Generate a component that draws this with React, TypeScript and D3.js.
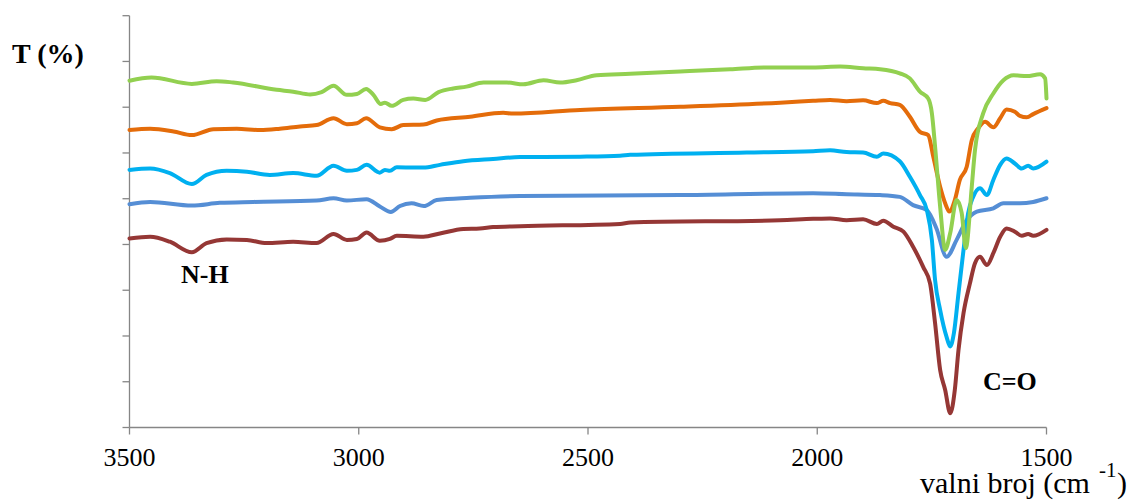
import React from "react";
import * as d3 from "d3";

// x: wavenumber (cm^-1), y: transmittance (%)
const xTicks = [3500, 3000, 2500, 2000, 1500];
const yTicks = [0, 10, 20, 30, 40, 50, 60, 70, 80, 90];

const greenWn = [3500, 3452, 3364, 3310, 3274, 3179, 3143, 3106, 3081, 3055, 3026, 3004, 2984, 2968, 2952, 2943, 2928, 2903, 2881, 2855, 2826, 2794, 2765, 2728, 2692, 2677, 2641, 2597, 2561, 2525, 2481, 2408, 2299, 2190, 2110, 2009, 1950, 1900, 1863, 1820, 1798, 1776, 1758, 1750, 1743, 1732, 1721, 1710, 1696, 1685, 1676, 1663, 1656, 1638, 1616, 1594, 1572, 1543, 1514, 1503, 1500];
const greenT = [75.8, 76.5, 75.1, 75.7, 75.4, 73.8, 73.4, 72.8, 73.3, 74.7, 72.7, 72.9, 74.0, 72.7, 70.7, 71.0, 70.3, 71.6, 71.9, 71.6, 73.3, 74.1, 74.5, 75.4, 75.4, 75.4, 75.0, 75.9, 75.4, 75.9, 77.0, 77.3, 77.8, 78.3, 78.7, 78.7, 78.9, 78.5, 78.3, 77.4, 76.3, 73.4, 71.9, 68.7, 61.4, 48.3, 38.8, 42.5, 49.7, 46.9, 39.2, 52.6, 60.6, 68.7, 73.0, 75.9, 77.0, 76.8, 77.2, 76.3, 71.9];

const orangeWn = [3500, 3455, 3404, 3364, 3317, 3266, 3215, 3172, 3128, 3092, 3055, 3026, 3004, 2984, 2954, 2928, 2903, 2859, 2830, 2757, 2685, 2663, 2517, 2299, 2081, 2009, 1972, 1936, 1900, 1870, 1856, 1841, 1820, 1798, 1776, 1758, 1747, 1732, 1721, 1712, 1700, 1689, 1674, 1663, 1649, 1634, 1616, 1601, 1587, 1569, 1558, 1543, 1529, 1500];
const orangeT = [65.0, 65.3, 64.7, 63.9, 65.2, 65.3, 65.0, 65.3, 65.8, 66.1, 67.6, 66.3, 66.5, 67.6, 65.6, 65.2, 66.1, 66.2, 67.1, 67.9, 68.8, 68.6, 69.4, 70.1, 71.0, 71.4, 71.6, 71.3, 71.5, 70.9, 71.4, 70.9, 70.5, 67.9, 64.6, 63.9, 59.2, 52.6, 49.0, 47.2, 49.7, 54.1, 57.0, 62.8, 65.4, 66.8, 65.6, 67.6, 69.5, 69.0, 68.1, 67.8, 68.5, 69.8];

const cyanWn = [3500, 3455, 3412, 3364, 3332, 3288, 3244, 3194, 3143, 3092, 3055, 3026, 3004, 2983, 2954, 2943, 2932, 2917, 2859, 2823, 2772, 2707, 2648, 2517, 2430, 2408, 2154, 2009, 1972, 1936, 1900, 1870, 1856, 1820, 1798, 1776, 1761, 1750, 1743, 1732, 1718, 1710, 1702, 1692, 1681, 1671, 1660, 1645, 1630, 1616, 1601, 1587, 1569, 1554, 1540, 1529, 1500];
const cyanT = [56.3, 56.6, 55.6, 53.2, 55.2, 56.1, 55.9, 55.2, 55.6, 55.0, 57.2, 56.1, 56.3, 57.4, 55.7, 56.3, 56.1, 56.9, 56.8, 57.4, 58.2, 58.7, 59.1, 59.2, 59.4, 59.6, 60.1, 60.4, 60.6, 60.2, 60.1, 59.2, 59.9, 58.2, 54.8, 50.8, 47.5, 41.0, 32.2, 25.7, 19.8, 17.7, 20.6, 29.3, 38.8, 46.8, 50.4, 52.3, 50.8, 54.1, 57.4, 58.8, 57.7, 56.6, 57.2, 56.6, 58.1];

const blueWn = [3500, 3455, 3364, 3303, 3230, 3092, 3055, 3026, 2983, 2954, 2930, 2910, 2885, 2858, 2830, 2757, 2648, 2299, 2009, 1936, 1863, 1820, 1791, 1761, 1740, 1718, 1696, 1674, 1652, 1616, 1594, 1558, 1529, 1500];
const blueT = [48.8, 49.3, 48.5, 49.1, 49.3, 49.6, 50.1, 49.6, 49.9, 48.3, 47.1, 48.4, 49.0, 48.4, 49.7, 50.2, 50.6, 50.8, 51.2, 51.0, 50.8, 50.4, 48.6, 47.5, 43.5, 37.3, 41.0, 45.3, 47.2, 47.9, 49.0, 49.0, 49.3, 50.1];

const redWn = [3500, 3455, 3412, 3364, 3332, 3288, 3244, 3201, 3143, 3092, 3055, 3026, 3004, 2983, 2954, 2932, 2917, 2859, 2823, 2772, 2736, 2707, 2648, 2430, 2408, 2081, 2009, 1972, 1936, 1900, 1870, 1856, 1834, 1812, 1791, 1769, 1754, 1743, 1732, 1721, 1710, 1700, 1692, 1681, 1667, 1656, 1645, 1630, 1616, 1601, 1587, 1569, 1554, 1540, 1529, 1500];
const redT = [41.3, 41.7, 40.6, 38.3, 40.3, 41.1, 41.0, 40.3, 40.6, 40.3, 42.3, 41.0, 41.2, 42.6, 40.8, 41.2, 41.9, 41.7, 42.4, 43.4, 43.5, 43.8, 44.0, 44.5, 44.8, 45.3, 45.6, 45.7, 45.3, 45.5, 44.5, 45.2, 43.9, 42.8, 39.5, 35.1, 31.5, 22.8, 12.6, 8.2, 3.1, 8.2, 16.9, 25.0, 31.5, 35.9, 37.3, 35.5, 38.1, 41.7, 43.5, 42.8, 41.9, 42.3, 41.9, 43.2];

const series = [
  { name: "red", color: "#953735", wn: redWn, t: redT },
  { name: "blue", color: "#558ED5", wn: blueWn, t: blueT },
  { name: "cyan", color: "#00B0F0", wn: cyanWn, t: cyanT },
  { name: "orange", color: "#E46C0A", wn: orangeWn, t: orangeT },
  { name: "green", color: "#92D050", wn: greenWn, t: greenT },
];

const W = 1131;
const H = 501;
const FONT = '"Liberation Serif", "Times New Roman", Times, "DejaVu Serif", serif';
const AXIS = "#868686";
const txt = { fontFamily: FONT };

export default function App() {
  const x = d3.scaleLinear().domain([3500, 1500]).range([129.5, 1046.5]);
  const y = d3.scaleLinear().domain([0, 90]).range([427.5, 15.7]);
  const line = d3
    .line<[number, number]>()
    .x((d) => x(d[0]))
    .y((d) => y(d[1]))
    .curve(d3.curveMonotoneX);

  return (
    <svg
      width={W}
      height={H}
      style={{ position: "absolute", left: 0, top: 0, background: "#fff", fontFamily: FONT }}
    >
      {/* y axis */}
      <line x1={x(3500)} x2={x(3500)} y1={y(90)} y2={y(0)} stroke={AXIS} strokeWidth={1.3} />
      {yTicks.map((t) => (
        <line key={t} x1={x(3500) - 7} x2={x(3500)} y1={y(t)} y2={y(t)} stroke={AXIS} strokeWidth={1.3} />
      ))}
      {/* x axis */}
      <line x1={x(3500)} x2={x(1500)} y1={y(0)} y2={y(0)} stroke={AXIS} strokeWidth={1.3} />
      {xTicks.map((t) => (
        <g key={t}>
          <line x1={x(t)} x2={x(t)} y1={y(0)} y2={y(0) + 7} stroke={AXIS} strokeWidth={1.3} />
          <text x={x(t)} y={466} fontSize={26} textAnchor="middle" fill="#000" style={txt}>
            {t}
          </text>
        </g>
      ))}

      {/* series */}
      {series.map((s) => (
        <path
          key={s.name}
          d={line(s.wn.map((w, i) => [w, s.t[i]] as [number, number])) || ""}
          fill="none"
          stroke={s.color}
          strokeWidth={4}
          strokeLinejoin="round"
          strokeLinecap="round"
        />
      ))}

      {/* labels */}
      <text x={12} y={63} fontSize={28} fontWeight="bold" fill="#000" style={txt}>
        T (%)
      </text>
      <text x={181} y={283} fontSize={26} fontWeight="bold" fill="#000" style={txt}>
        N-H
      </text>
      <text x={983} y={390} fontSize={26} fontWeight="bold" fill="#000" style={txt}>
        C=O
      </text>
      <text x={920} y={493} fontSize={30} fill="#000" style={txt}>
        valni broj (cm
      </text>
      <text x={1099} y={477} fontSize={21} fill="#000" style={txt}>
        -1
      </text>
      <text x={1117} y={493} fontSize={30} fill="#000" style={txt}>
        )
      </text>
    </svg>
  );
}
